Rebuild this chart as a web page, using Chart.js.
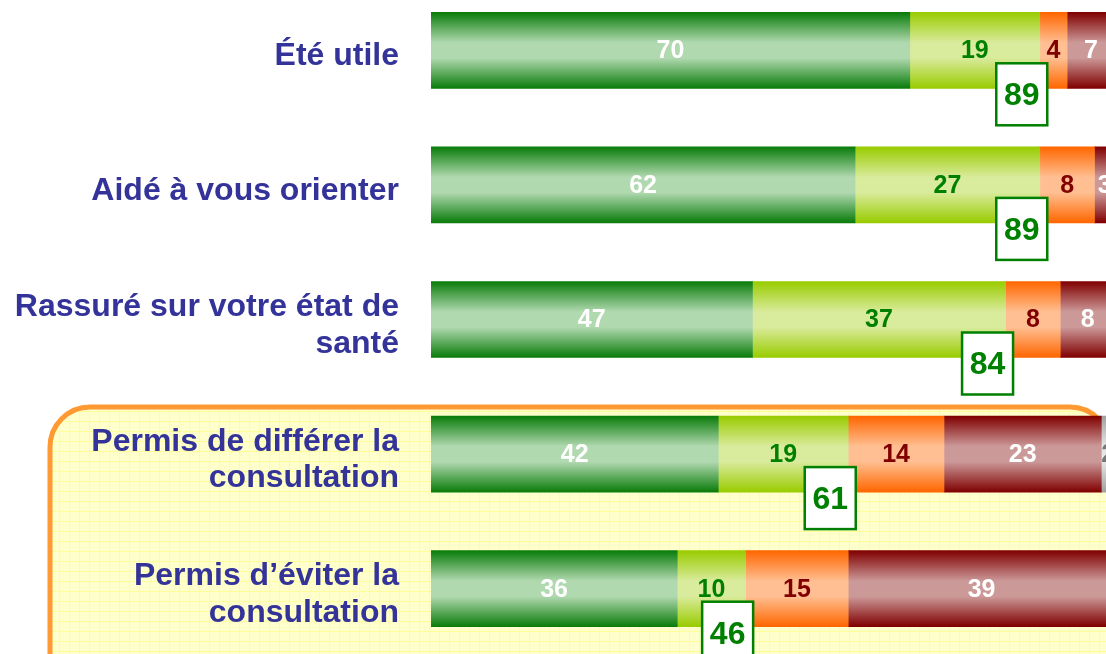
<!DOCTYPE html>
<html>
<head>
<meta charset="utf-8">
<script src="https://cdn.jsdelivr.net/npm/chart.js@4"></script>
<style>
  html, body { margin: 0; padding: 0; background: #ffffff; overflow: hidden; width: 1106px; height: 654px; }
  #wrap { position: absolute; left: 0; top: -17px; width: 1130px; height: 690px; }
</style>
</head>
<body>
<div id="wrap"><canvas id="c" width="1130" height="690"></canvas></div>
<script>
// ---- data ----
const categories = [
  ['Été utile'],
  ['Aidé à vous orienter'],
  ['Rassuré sur votre état de', 'santé'],
  ['Permis de différer la', 'consultation'],
  ['Permis d’éviter la', 'consultation']
];
const toutAFait = [70, 62, 47, 42, 36];
const plutot = [19, 27, 37, 19, 10];
const plutotPas = [4, 8, 8, 14, 15];
const pasDuTout = [7, 3, 8, 23, 39];
const nsp = [0, 0, 0, 2, 0];
const satisfaits = [89, 89, 84, 61, 46];

// ---- styles ----
const FONT = "'Liberation Sans', Arial, Helvetica, sans-serif";
const seriesStyle = [
  { dark: '#0a7c0a', light: '#b1d9b0', text: '#ffffff' },
  { dark: '#99cc00', light: '#d9eb9c', text: '#008000' },
  { dark: '#ff6600', light: '#ffbf92', text: '#800000' },
  { dark: '#800000', light: '#cc9999', text: '#ffffff' },
  { dark: '#a0a0a0', light: '#e6e6e6', text: '#777777' }
];
const BAR_T = 76;

function grad(style) {
  return function (ctx) {
    const chart = ctx.chart;
    if (!chart.chartArea || !chart.scales.y) return style.light;
    const yc = chart.scales.y.getPixelForValue(ctx.dataIndex);
    const g = chart.ctx.createLinearGradient(0, yc - BAR_T / 2, 0, yc + BAR_T / 2);
    g.addColorStop(0, style.dark);
    g.addColorStop(0.4, style.light);
    g.addColorStop(0.6, style.light);
    g.addColorStop(1, style.dark);
    return g;
  };
}

const names = ['Tout à fait', 'Plutôt', 'Plutôt pas', 'Pas du tout', 'NSP'];
const values = [toutAFait, plutot, plutotPas, pasDuTout, nsp];
const datasets = values.map((v, i) => ({
  label: names[i],
  data: v,
  backgroundColor: grad(seriesStyle[i]),
  borderWidth: 0,
  barThickness: BAR_T
}));

const backgroundPlugin = {
  id: 'bg',
  beforeDraw(chart) {
    const c = chart.ctx;
    c.save();
    c.fillStyle = '#ffffff';
    c.fillRect(0, 0, chart.width, chart.height);
    const off = 17;
    const x0 = 50, y0 = 407 + off, x1 = 1110, y1 = 720, r = 40;
    const path = () => {
      c.beginPath();
      c.moveTo(x0 + r, y0);
      c.lineTo(x1 - r, y0);
      c.arcTo(x1, y0, x1, y0 + r, r);
      c.lineTo(x1, y1);
      c.lineTo(x0, y1);
      c.lineTo(x0, y0 + r);
      c.arcTo(x0, y0, x0 + r, y0, r);
      c.closePath();
    };
    path();
    c.fillStyle = '#ffffcc';
    c.fill();
    c.save();
    path();
    c.clip();
    c.strokeStyle = '#ffff99';
    c.lineWidth = 1;
    c.beginPath();
    for (let x = 9.5; x < x1; x += 10) { c.moveTo(x, y0); c.lineTo(x, y1); }
    for (let y = 401.5 + off; y < y1; y += 10) { c.moveTo(x0, y); c.lineTo(x1, y); }
    c.stroke();
    c.restore();
    path();
    c.strokeStyle = '#ff9933';
    c.lineWidth = 5;
    c.stroke();
    c.restore();
  }
};

const labelPlugin = {
  id: 'labels',
  afterDatasetsDraw(chart) {
    const c = chart.ctx;
    c.save();
    c.textAlign = 'center';
    c.textBaseline = 'middle';
    c.font = 'bold 25px ' + FONT;
    chart.data.datasets.forEach((ds, di) => {
      const meta = chart.getDatasetMeta(di);
      meta.data.forEach((el, i) => {
        const v = ds.data[i];
        if (!v) return;
        c.fillStyle = seriesStyle[di].text;
        c.fillText(String(v), (el.x + el.base) / 2, el.y + 1);
      });
    });
    const xs = chart.scales.x, ys = chart.scales.y;
    satisfaits.forEach((t, i) => {
      const cx = xs.getPixelForValue(t) - 18;
      const top = ys.getPixelForValue(i) + 13;
      const w = 51, h = 62;
      c.fillStyle = '#ffffff';
      c.fillRect(cx - w / 2, top, w, h);
      c.strokeStyle = '#008000';
      c.lineWidth = 2.5;
      c.strokeRect(cx - w / 2, top, w, h);
      c.fillStyle = '#008000';
      c.font = 'bold 32px ' + FONT;
      c.fillText(String(t), cx, top + h / 2 + 2);
    });
    c.restore();
  }
};

new Chart(document.getElementById('c'), {
  type: 'bar',
  data: { labels: categories, datasets },
  options: {
    indexAxis: 'y',
    responsive: false,
    animation: false,
    layout: { padding: { top: 0, bottom: 17, left: 0, right: 15 } },
    plugins: { legend: { display: false }, tooltip: { enabled: false } },
    scales: {
      x: { stacked: true, min: 0, max: 100, display: false },
      y: {
        stacked: true,
        grid: { display: false, drawTicks: false },
        border: { display: false },
        ticks: {
          color: '#333399',
          padding: 32,
          labelOffset: 6,
          font: { family: FONT, size: 32, weight: 'bold', lineHeight: 1.15 }
        },
        afterFit(scale) {
          scale.width = 431;
          scale.paddingTop = 0;
          scale.paddingBottom = 0;
        }
      }
    }
  },
  plugins: [backgroundPlugin, labelPlugin]
});
</script>
</body>
</html>
